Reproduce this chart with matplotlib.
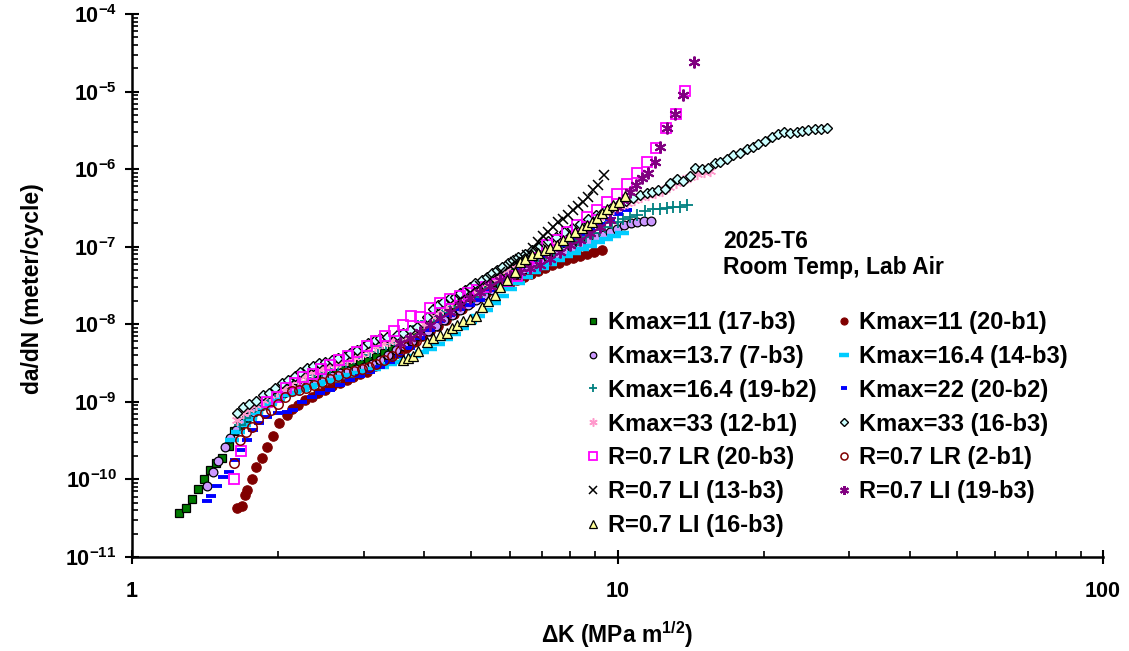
import numpy as np
import matplotlib
matplotlib.use("Agg")
import matplotlib.pyplot as plt
from matplotlib.ticker import LogLocator, FuncFormatter, FixedLocator, NullFormatter

# ---------------- data (ΔK in MPa m^1/2, da/dN in m/cycle) ----------------
labels = ['Kmax=11 (17-b3)', 'Kmax=11 (20-b1)', 'Kmax=13.7 (7-b3)', 'Kmax=16.4 (14-b3)',
          'Kmax=16.4 (19-b2)', 'Kmax=22 (20-b2)', 'Kmax=33 (12-b1)', 'Kmax=33 (16-b3)',
          'R=0.7 LR (20-b3)', 'R=0.7 LR (2-b1)', 'R=0.7 LI (13-b3)', 'R=0.7 LI (19-b3)',
          'R=0.7 LI (16-b3)']

dk_kmax11_17b3 = [1.250, 1.290, 1.327, 1.366, 1.405, 1.448, 1.489, 1.535, 1.582, 1.624,
                  1.669, 1.717, 1.767, 1.818, 1.879, 1.943, 2.018, 2.096, 2.177, 2.261,
                  2.348, 2.439, 2.533, 2.632, 2.733, 2.839, 2.949, 3.063, 3.182, 3.304,
                  3.432, 3.565, 3.702, 3.846, 3.995, 4.149, 4.310, 4.476, 4.649, 4.83,
                  5.017, 5.21, 5.411, 5.62, 5.838, 6.064, 6.30, 6.541, 6.794, 7.056,
                  7.33, 7.61, 7.91, 8.21, 8.53, 8.86]
da_kmax11_17b3 = [3.72e-11, 4.31e-11, 5.62e-11, 7.57e-11, 1.02e-10, 1.34e-10, 1.64e-10, 1.90e-10, 2.68e-10, 4.18e-10,
                  5.09e-10, 5.91e-10, 6.86e-10, 7.95e-10, 9.23e-10, 1.07e-9, 1.21e-9, 1.36e-9, 1.53e-9, 1.67e-9,
                  1.82e-9, 2.0e-9, 2.18e-9, 2.38e-9, 2.60e-9, 2.85e-9, 3.11e-9, 3.40e-9, 3.83e-9, 4.31e-9,
                  4.85e-9, 5.46e-9, 6.15e-9, 7.13e-9, 8.27e-9, 9.89e-9, 1.18e-8, 1.41e-8, 1.69e-8, 1.95e-8,
                  2.27e-8, 2.63e-8, 3.05e-8, 3.65e-8, 4.23e-8, 4.90e-8, 5.69e-8, 6.4e-8, 7.21e-8, 7.87e-8,
                  8.61e-8, 9.41e-8, 1.03e-7, 1.12e-7, 1.19e-7, 1.23e-7]

dk_kmax11_20b1 = [1.643, 1.682, 1.709, 1.728, 1.765, 1.800, 1.850, 1.894, 1.954, 2.011,
                  2.083, 2.133, 2.200, 2.272, 2.345, 2.419, 2.497, 2.578, 2.682, 2.769,
                  2.857, 2.949, 3.044, 3.167, 3.272, 3.400, 3.531, 3.667, 3.809, 3.957,
                  4.110, 4.268, 4.434, 4.605, 4.783, 4.969, 5.161, 5.360, 5.568, 5.783,
                  6.007, 6.209, 6.419, 6.635, 6.859, 7.09, 7.33, 7.58, 7.83, 8.10,
                  8.37, 8.65, 8.94, 9.28]
da_kmax11_20b1 = [4.31e-11, 4.61e-11, 6.39e-11, 7.41e-11, 1.02e-10, 1.45e-10, 1.90e-10, 2.60e-10, 3.68e-10, 5.36e-10,
                  6.86e-10, 8.11e-10, 9.23e-10, 1.05e-9, 1.16e-9, 1.30e-9, 1.41e-9, 1.59e-9, 1.75e-9, 1.90e-9,
                  2.10e-9, 2.29e-9, 2.40e-9, 2.87e-9, 3.21e-9, 3.72e-9, 4.31e-9, 5.0e-9, 5.97e-9, 7.13e-9,
                  8.27e-9, 9.6e-9, 1.15e-8, 1.37e-8, 1.59e-8, 1.90e-8, 2.20e-8, 2.55e-8, 2.88e-8, 3.14e-8,
                  3.43e-8, 3.75e-8, 4.10e-8, 4.48e-8, 4.90e-8, 5.36e-8, 5.86e-8, 6.21e-8, 6.79e-8, 7.21e-8,
                  7.64e-8, 8.11e-8, 8.61e-8, 9.14e-8]

dk_kmax137_7b3 = [1.427, 1.469, 1.504, 1.554, 1.592, 1.637, 1.685, 1.734, 1.784, 1.844,
                  1.906, 1.980, 2.056, 2.136, 2.218, 2.304, 2.393, 2.486, 2.582, 2.682,
                  2.786, 2.893, 3.005, 3.122, 3.243, 3.368, 3.498, 3.633, 3.773, 3.920,
                  4.071, 4.228, 4.391, 4.561, 4.739, 4.921, 5.11, 5.31, 5.514, 5.73,
                  5.95, 6.18, 6.42, 6.67, 6.92, 7.19, 7.47, 7.76, 8.06, 8.37,
                  8.70, 9.03, 9.34, 9.65, 9.97, 10.31, 10.66, 10.97, 11.34, 11.72]
da_kmax137_7b3 = [8.35e-11, 1.23e-10, 1.75e-10, 2.58e-10, 3.47e-10, 4.39e-10, 5.4e-10, 6.46e-10, 7.5e-10, 8.95e-10,
                  1.04e-9, 1.17e-9, 1.32e-9, 1.44e-9, 1.57e-9, 1.72e-9, 1.88e-9, 2.05e-9, 2.18e-9, 2.38e-9,
                  2.53e-9, 2.68e-9, 2.85e-9, 3.11e-9, 3.50e-9, 4.06e-9, 4.71e-9, 5.3e-9, 6.15e-9, 7.13e-9,
                  8.27e-9, 9.6e-9, 1.15e-8, 1.33e-8, 1.54e-8, 1.79e-8, 2.07e-8, 2.41e-8, 2.79e-8, 3.33e-8,
                  3.87e-8, 4.48e-8, 5.2e-8, 5.86e-8, 6.59e-8, 7.43e-8, 8.11e-8, 8.87e-8, 9.7e-8, 1.06e-7,
                  1.19e-7, 1.34e-7, 1.43e-7, 1.56e-7, 1.70e-7, 1.92e-7, 2.04e-7, 2.1e-7, 2.16e-7, 2.16e-7]

dk_kmax164_14b3 = [1.607, 1.653, 1.701, 1.750, 1.800, 1.862, 1.924, 1.999, 2.076, 2.156,
                   2.239, 2.326, 2.416, 2.509, 2.607, 2.706, 2.812, 2.921, 3.034, 3.151,
                   3.273, 3.400, 3.531, 3.667, 3.809, 3.957, 4.110, 4.268, 4.434, 4.605,
                   4.783, 4.969, 5.161, 5.36, 5.568, 5.783, 6.007, 6.237, 6.478, 6.730,
                   6.99, 7.26, 7.54, 7.83, 8.14, 8.45, 8.78, 9.12, 9.47, 9.83, 10.21]
da_kmax164_14b3 = [3.26e-10, 4.14e-10, 5.09e-10, 6.09e-10, 7.28e-10, 8.44e-10, 9.51e-10, 1.07e-9, 1.21e-9, 1.32e-9,
                   1.44e-9, 1.57e-9, 1.67e-9, 1.82e-9, 1.94e-9, 2.12e-9, 2.24e-9, 2.38e-9, 2.53e-9, 2.68e-9,
                   2.85e-9, 3.11e-9, 3.30e-9, 3.61e-9, 3.94e-9, 4.44e-9, 4.85e-9, 5.62e-9, 6.53e-9, 7.57e-9,
                   9.04e-9, 1.08e-8, 1.29e-8, 1.54e-8, 1.90e-8, 2.34e-8, 2.88e-8, 3.43e-8, 4.10e-8, 4.76e-8,
                   5.36e-8, 6.04e-8, 6.79e-8, 7.65e-8, 8.36e-8, 9.41e-8, 1.03e-7, 1.16e-7, 1.27e-7, 1.38e-7, 1.51e-7]

dk_kmax164_19b2 = [1.669, 1.709, 1.750, 1.800, 1.853, 1.906, 1.970, 2.037, 2.116, 2.198,
                   2.283, 2.371, 2.462, 2.557, 2.657, 2.759, 2.867, 2.977, 3.092, 3.212,
                   3.337, 3.464, 3.598, 3.738, 3.883, 4.034, 4.188, 4.351, 4.519, 4.693,
                   4.875, 5.063, 5.26, 5.46, 5.67, 5.89, 6.12, 6.36, 6.60, 6.86,
                   7.12, 7.40, 7.69, 7.98, 8.29, 8.61, 8.90, 9.20, 9.43, 9.74,
                   10.02, 10.26, 10.61, 10.97, 11.39, 11.83, 12.23, 12.65, 13.01, 13.45, 13.90]
da_kmax164_19b2 = [5.09e-10, 6.27e-10, 7.5e-10, 8.95e-10, 1.04e-9, 1.17e-9, 1.32e-9, 1.48e-9, 1.62e-9, 1.82e-9,
                   2.05e-9, 2.24e-9, 2.45e-9, 2.68e-9, 2.93e-9, 3.30e-9, 3.72e-9, 4.06e-9, 4.44e-9, 5.0e-9,
                   5.62e-9, 6.34e-9, 7.35e-9, 8.27e-9, 9.6e-9, 1.11e-8, 1.29e-8, 1.45e-8, 1.69e-8, 1.90e-8,
                   2.07e-8, 2.27e-8, 2.55e-8, 2.96e-8, 3.43e-8, 3.98e-8, 4.76e-8, 5.52e-8, 6.4e-8, 7.21e-8,
                   8.11e-8, 9.14e-8, 1.03e-7, 1.12e-7, 1.23e-7, 1.34e-7, 1.51e-7, 1.65e-7, 1.81e-7, 2.04e-7,
                   2.1e-7, 2.29e-7, 2.43e-7, 2.58e-7, 2.90e-7, 3.08e-7, 3.08e-7, 3.18e-7, 3.27e-7, 3.27e-7, 3.47e-7]

dk_kmax22_20b2 = [1.427, 1.455, 1.496, 1.539, 1.584, 1.630, 1.669, 1.725, 1.775, 1.826,
                  1.897, 1.999, 2.086, 2.146, 2.239, 2.348, 2.439, 2.557, 2.682, 2.812,
                  2.949, 3.092, 3.242, 3.400, 3.565, 3.738, 3.920, 4.110, 4.310, 4.519,
                  4.739, 4.969, 5.21, 5.46, 5.73, 6.01, 6.30, 6.60, 6.92, 7.26,
                  7.61, 7.98, 8.37, 8.78, 9.20, 9.65, 10.02, 10.46]
da_kmax22_20b2 = [5.2e-11, 6.03e-11, 8.11e-11, 1.09e-10, 1.26e-10, 1.80e-10, 2.43e-10, 3.26e-10, 4.39e-10, 5.4e-10,
                  6.46e-10, 7.28e-10, 7.5e-10, 7.95e-10, 1.01e-9, 1.17e-9, 1.32e-9, 1.44e-9, 1.67e-9, 1.94e-9,
                  2.18e-9, 2.45e-9, 2.85e-9, 3.30e-9, 3.94e-9, 5.0e-9, 6.6e-9, 8.5e-9, 1.11e-8, 1.33e-8,
                  1.59e-8, 1.79e-8, 2.07e-8, 2.79e-8, 3.65e-8, 4.48e-8, 5.36e-8, 6.4e-8, 7.65e-8, 9.14e-8,
                  1.06e-7, 1.23e-7, 1.47e-7, 1.70e-7, 1.98e-7, 2.29e-7, 2.66e-7, 2.99e-7]

dk_kmax33_12b1 = [1.646, 1.693, 1.742, 1.800, 1.862, 1.924, 1.990, 2.056, 2.126, 2.198,
                  2.272, 2.348, 2.428, 2.509, 2.594, 2.682, 2.772, 2.867, 2.963, 3.063,
                  3.167, 3.273, 3.383, 3.498, 3.615, 3.738, 3.864, 3.995, 4.130, 4.268,
                  4.413, 4.561, 4.715, 4.874, 5.038, 5.21, 5.385, 5.568, 5.754, 5.951,
                  6.151, 6.359, 6.573, 6.794, 7.023, 7.26, 7.505, 7.76, 8.02, 8.29,
                  8.57, 8.86, 9.16, 9.47, 9.79, 10.12, 10.46, 10.81, 11.18, 11.56,
                  11.95, 12.35, 12.77, 13.20, 13.64, 14.10, 14.58, 15.07, 15.51]
da_kmax33_12b1 = [5.91e-10, 7.28e-10, 8.19e-10, 9.23e-10, 1.07e-9, 1.21e-9, 1.36e-9, 1.53e-9, 1.72e-9, 1.94e-9,
                  2.18e-9, 2.45e-9, 2.68e-9, 2.85e-9, 3.11e-9, 3.30e-9, 3.50e-9, 3.83e-9, 4.18e-9, 4.71e-9,
                  5.3e-9, 5.8e-9, 6.15e-9, 6.53e-9, 6.92e-9, 7.57e-9, 8.53e-9, 1.02e-8, 1.29e-8, 1.54e-8,
                  1.74e-8, 1.95e-8, 2.20e-8, 2.41e-8, 2.71e-8, 3.05e-8, 3.43e-8, 3.87e-8, 4.48e-8, 5.2e-8,
                  5.86e-8, 6.59e-8, 7.43e-8, 8.36e-8, 9.41e-8, 1.06e-7, 1.19e-7, 1.34e-7, 1.51e-7, 1.70e-7,
                  1.92e-7, 2.16e-7, 2.43e-7, 2.74e-7, 3.08e-7, 3.37e-7, 3.68e-7, 4.02e-7, 4.4e-7, 4.67e-7,
                  4.95e-7, 5.26e-7, 5.92e-7, 6.67e-7, 7.28e-7, 7.96e-7, 8.7e-7, 9.23e-7, 9.51e-7]

dk_kmax33_16b3 = [1.646, 1.693, 1.742, 1.800, 1.862, 1.915, 1.970, 2.037, 2.096, 2.166,
                  2.218, 2.294, 2.360, 2.428, 2.498, 2.582, 2.657, 2.746, 2.812, 2.907,
                  2.991, 3.063, 3.167, 3.243, 3.352, 3.514, 3.615, 3.738, 3.864, 4.053,
                  4.169, 4.268, 4.371, 4.519, 4.627, 4.739, 4.853, 4.969, 5.088, 5.26,
                  5.385, 5.514, 5.647, 5.783, 5.951, 6.093, 6.239, 6.450, 6.668, 6.92,
                  7.19, 7.47, 7.76, 8.06, 8.37, 8.70, 9.03, 9.38, 9.74, 10.07,
                  10.41, 10.76, 11.13, 11.50, 11.78, 12.12, 12.53, 12.83, 13.27, 13.65,
                  14.11, 14.44, 14.93, 15.36, 15.88, 16.26, 16.81, 17.30, 17.88, 18.48,
                  19.02, 19.48, 20.13, 20.81, 21.41, 22.03, 22.66, 23.42, 23.99, 24.68,
                  25.51, 26.26, 27.01]
da_kmax33_16b3 = [7.28e-10, 8.69e-10, 9.51e-10, 1.04e-9, 1.21e-9, 1.32e-9, 1.53e-9, 1.77e-9, 1.94e-9, 2.18e-9,
                  2.45e-9, 2.76e-9, 2.93e-9, 3.21e-9, 3.30e-9, 3.50e-9, 3.72e-9, 3.94e-9, 4.31e-9, 4.71e-9,
                  5.15e-9, 5.80e-9, 6.34e-9, 6.73e-9, 6.92e-9, 7.35e-9, 7.80e-9, 8.53e-9, 9.31e-9, 1.25e-8,
                  1.59e-8, 1.79e-8, 1.95e-8, 2.20e-8, 2.27e-8, 2.55e-8, 2.79e-8, 3.05e-8, 3.43e-8, 3.75e-8,
                  4.10e-8, 4.62e-8, 5.05e-8, 5.52e-8, 6.21e-8, 6.79e-8, 7.43e-8, 8.11e-8, 9.14e-8, 1.03e-7,
                  1.19e-7, 1.34e-7, 1.56e-7, 1.75e-7, 1.98e-7, 2.29e-7, 2.58e-7, 2.90e-7, 3.27e-7, 3.57e-7,
                  3.91e-7, 4.27e-7, 4.67e-7, 4.95e-7, 5.1e-7, 5.41e-7, 5.57e-7, 6.67e-7, 7.5e-7, 7.06e-7,
                  8.2e-7, 1.04e-6, 1.01e-6, 1.04e-6, 1.21e-6, 1.24e-6, 1.36e-6, 1.53e-6, 1.62e-6, 1.83e-6,
                  1.94e-6, 2.12e-6, 2.31e-6, 2.61e-6, 2.85e-6, 3.02e-6, 2.94e-6, 3.02e-6, 3.11e-6, 3.21e-6,
                  3.30e-6, 3.30e-6, 3.40e-6]

dk_r07lr_20b3 = [1.624, 1.677, 1.897, 1.990, 2.076, 2.166, 2.254, 2.356, 2.447, 2.557,
                 2.673, 2.790, 2.911, 3.044, 3.182, 3.320, 3.464, 3.620, 3.755, 3.920,
                 4.110, 4.310, 4.519, 4.739, 4.92, 5.13, 5.36, 5.62, 5.91, 6.20,
                 6.55, 6.82, 7.15, 7.50, 7.86, 8.24, 8.64, 9.06, 9.50, 9.96,
                 10.44, 10.95, 11.48, 12.00, 12.59, 13.18, 13.77]
da_r07lr_20b3 = [1.02e-10, 2.36e-10, 9.87e-10, 1.17e-9, 1.51e-9, 1.75e-9, 2.10e-9, 2.31e-9, 2.66e-9, 3.02e-9,
                 3.50e-9, 3.86e-9, 4.44e-9, 5.2e-9, 6.02e-9, 6.98e-9, 8.1e-9, 9.89e-9, 1.26e-8, 1.24e-8,
                 1.62e-8, 1.90e-8, 2.14e-8, 2.34e-8, 2.55e-8, 2.79e-8, 3.05e-8, 3.33e-8, 3.57e-8, 4.14e-8,
                 5.57e-8, 7.14e-8, 1.06e-7, 1.23e-7, 1.57e-7, 1.92e-7, 2.45e-7, 2.99e-7, 3.72e-7, 4.77e-7,
                 6.41e-7, 8.89e-7, 1.25e-6, 1.90e-6, 3.37e-6, 5.15e-6, 1.03e-5]

dk_r07lr_2b1 = [1.623, 1.669, 1.717, 1.767, 1.818, 1.879, 1.933, 1.999, 2.066, 2.136,
                2.208, 2.283, 2.371, 2.462, 2.557, 2.657, 2.759, 2.867, 2.977, 3.077,
                3.182, 3.304, 3.432, 3.565, 3.702, 3.846]
da_r07lr_2b1 = [1.65e-10, 3.26e-10, 4.14e-10, 4.8e-10, 6.09e-10, 7.28e-10, 7.95e-10, 9.51e-10, 1.17e-9, 1.36e-9,
                1.44e-9, 1.53e-9, 1.67e-9, 1.82e-9, 2.0e-9, 2.18e-9, 2.38e-9, 2.53e-9, 2.68e-9, 2.85e-9,
                3.11e-9, 3.50e-9, 3.94e-9, 4.57e-9, 5.3e-9, 6.15e-9]

dk_r07li_13b3 = [4.739, 4.969, 5.21, 5.46, 5.73, 6.01, 6.15, 6.30, 6.50, 6.71,
                 6.87, 7.03, 7.20, 7.38, 7.55, 7.73, 7.92, 8.11, 8.31, 8.51,
                 8.71, 8.90, 9.13, 9.38]
da_r07li_13b3 = [2.07e-8, 2.55e-8, 3.14e-8, 3.87e-8, 4.76e-8, 5.69e-8, 6.4e-8, 7.0e-8, 7.87e-8, 9.7e-8,
                 1.16e-7, 1.38e-7, 1.56e-7, 1.81e-7, 2.1e-7, 2.29e-7, 2.58e-7, 2.99e-7, 3.37e-7, 3.79e-7,
                 4.4e-7, 5.41e-7, 6.28e-7, 8.45e-7]

dk_r07li_19b3 = [3.565, 3.738, 3.920, 4.110, 4.310, 4.519, 4.739, 4.969, 5.21, 5.46,
                 5.73, 6.01, 6.30, 6.60, 6.92, 7.26, 7.61, 7.98, 8.37, 8.78,
                 9.20, 9.65, 9.96, 10.26, 10.61, 10.92, 11.22, 11.57, 11.95, 12.23,
                 12.65, 13.13, 13.64, 14.37]
da_r07li_19b3 = [5.8e-9, 6.73e-9, 8.03e-9, 9.89e-9, 1.22e-8, 1.45e-8, 1.79e-8, 2.20e-8, 2.63e-8, 3.14e-8,
                 3.75e-8, 4.23e-8, 4.76e-8, 5.36e-8, 5.86e-8, 7.0e-8, 8.61e-8, 1.06e-7, 1.23e-7, 1.51e-7,
                 1.81e-7, 2.22e-7, 3.27e-7, 4.02e-7, 5.1e-7, 6.28e-7, 7.73e-7, 8.96e-7, 1.24e-6, 1.94e-6,
                 3.40e-6, 5.15e-6, 9.06e-6, 2.41e-5]

dk_r07li_16b3 = [3.620, 3.702, 3.797, 3.888, 4.046, 4.174, 4.310, 4.448, 4.555, 4.664,
                 4.812, 4.969, 5.11, 5.25, 5.42, 5.59, 5.73, 5.92, 6.15, 6.30,
                 6.45, 6.66, 6.87, 7.09, 7.26, 7.49, 7.73, 7.96, 8.18, 8.44,
                 8.64, 8.85, 9.06, 9.28, 9.53, 9.80, 10.09, 10.36]
da_r07li_16b3 = [3.50e-9, 3.72e-9, 3.86e-9, 4.57e-9, 5.89e-9, 6.73e-9, 7.24e-9, 7.8e-9, 8.96e-9, 9.89e-9,
                 1.09e-8, 1.18e-8, 1.29e-8, 1.66e-8, 1.97e-8, 2.41e-8, 3.05e-8, 3.75e-8, 4.76e-8, 6.4e-8,
                 7.0e-8, 7.76e-8, 8.36e-8, 9.14e-8, 9.7e-8, 1.06e-7, 1.23e-7, 1.38e-7, 1.57e-7, 1.74e-7,
                 1.92e-7, 2.11e-7, 2.34e-7, 2.71e-7, 3.05e-7, 3.47e-7, 3.72e-7, 4.53e-7]

x_ticks = [1, 10, 100]
x_tick_labels = ['1', '10', '100']
y_decades = list(range(-11, -3))

annotation_lines = ['2025-T6', 'Room Temp, Lab Air']
x_label = 'ΔK (MPa m$^{\\mathbf{1/2}}$)'
y_label = 'da/dN (meter/cycle)'

# ---------------- styles ----------------
series = [
    (dk_kmax11_17b3, da_kmax11_17b3, dict(marker='s', ms=6.3, mfc='#007A00', mec='black', mew=0.9)),
    (dk_kmax11_20b1, da_kmax11_20b1, dict(marker='o', ms=6.8, mfc='#800000', mec='#800000', mew=0.8)),
    (dk_kmax137_7b3, da_kmax137_7b3, dict(marker='o', ms=6.3, mfc='#CC99FF', mec='black', mew=0.9)),
    (dk_kmax164_14b3, da_kmax164_14b3, dict(marker='_', ms=9.5, mec='#00CCFF', mew=3.2)),
    (dk_kmax164_19b2, da_kmax164_19b2, dict(marker='+', ms=8, mec='#008080', mew=1.3)),
    (dk_kmax22_20b2, da_kmax22_20b2, dict(marker='_', ms=6.5, mec='#0000FF', mew=2.8)),
    (dk_kmax33_12b1, da_kmax33_12b1, dict(marker=(6, 2, 0), ms=8, mec='#FF99CC', mew=1.1)),
    (dk_kmax33_16b3, da_kmax33_16b3, dict(marker='D', ms=5.6, mfc='#CCFFFF', mec='black', mew=1.0)),
    (dk_r07lr_20b3, da_r07lr_20b3, dict(marker='s', ms=7.3, mfc='none', mec='#FF00FF', mew=1.3)),
    (dk_r07lr_2b1, da_r07lr_2b1, dict(marker='o', ms=6.8, mfc='none', mec='#800000', mew=1.1)),
    (dk_r07li_13b3, da_r07li_13b3, dict(marker='x', ms=7.5, mec='black', mew=1.1)),
    (dk_r07li_19b3, da_r07li_19b3, dict(marker=(6, 2, 0), ms=8.5, mec='#800080', mew=1.5)),
    (dk_r07li_16b3, da_r07li_16b3, dict(marker='^', ms=7, mfc='#FFFF99', mec='black', mew=0.9)),
]

plt.rcParams['font.family'] = ['Liberation Sans', 'DejaVu Sans']
plt.rcParams['font.weight'] = 'bold'
plt.rcParams['mathtext.fontset'] = 'custom'
plt.rcParams['mathtext.rm'] = 'Liberation Sans:bold'
plt.rcParams['mathtext.bf'] = 'Liberation Sans:bold'
plt.rcParams['mathtext.it'] = 'Liberation Sans:bold:italic'

W, H = 1129, 651
fig = plt.figure(figsize=(W / 100, H / 100), dpi=100, facecolor='white')
L, R, B, T = 132, 1103, 557, 14
ax = fig.add_axes([L / W, 1 - B / H, (R - L) / W, (B - T) / H])

handles = []
for (xs, ys, st), lab in zip(series, labels):
    h, = ax.plot(xs, ys, linestyle='none', label=lab, **st)
    handles.append(h)

ax.set_xscale('log')
ax.set_yscale('log')
ax.set_xlim(1, 100)
ax.set_ylim(1e-11, 1e-4)

for s in ('top', 'right'):
    ax.spines[s].set_visible(False)
for s in ('left', 'bottom'):
    ax.spines[s].set_linewidth(1.8)

ax.xaxis.set_major_locator(FixedLocator(x_ticks))
ax.xaxis.set_major_formatter(FuncFormatter(lambda v, p: x_tick_labels[x_ticks.index(int(round(v)))] if int(round(v)) in x_ticks else ''))
ax.xaxis.set_minor_locator(LogLocator(base=10, subs=range(2, 10), numticks=20))
ax.xaxis.set_minor_formatter(NullFormatter())

ax.yaxis.set_major_locator(FixedLocator([10.0 ** d for d in y_decades]))
ax.yaxis.set_major_formatter(FuncFormatter(lambda v, p: r'$\mathbf{10^{%d}}$' % int(round(np.log10(v)))))
ax.yaxis.set_minor_locator(LogLocator(base=10, subs=range(2, 10), numticks=20))
ax.yaxis.set_minor_formatter(NullFormatter())

ax.tick_params(axis='both', which='major', direction='inout', length=10, width=1.5, labelsize=15.5)
ax.tick_params(axis='both', which='minor', direction='in', length=4, width=1.2)
ax.tick_params(axis='x', which='major', pad=12)
ax.tick_params(axis='y', which='major', pad=6)
for lab in ax.get_xticklabels() + ax.get_yticklabels():
    lab.set_fontweight('bold')

ax.set_xlabel(x_label, fontsize=16.5, fontweight='bold')
ax.set_ylabel(y_label, fontsize=16.5, fontweight='bold')
ax.xaxis.set_label_coords((617 - L) / (R - L), (B - 635) / (B - T))
ax.xaxis.label.set_va('center')
ax.yaxis.set_label_coords((33 - L) / (R - L), (B - 289) / (B - T))
ax.yaxis.label.set_va('center')

fig.text(723 / W, 1 - 242 / H, annotation_lines[0], fontsize=16.5, fontweight='bold', ha='left', va='center')
fig.text(723 / W, 1 - 268 / H, annotation_lines[1], fontsize=16.5, fontweight='bold', ha='left', va='center')

order = [0, 2, 4, 6, 8, 10, 12, 1, 3, 5, 7, 9, 11]
leg = fig.legend([handles[i] for i in order], [labels[i] for i in order], ncol=2,
                 loc='upper left', bbox_to_anchor=(581.5 / W, 1 - 311 / H),
                 frameon=False, fontsize=17, handlelength=1.0, handletextpad=0.12,
                 columnspacing=0.68, labelspacing=0.46, borderpad=0, borderaxespad=0,
                 markerscale=0.75)

fig.savefig('out.png', dpi=100, facecolor='white')
